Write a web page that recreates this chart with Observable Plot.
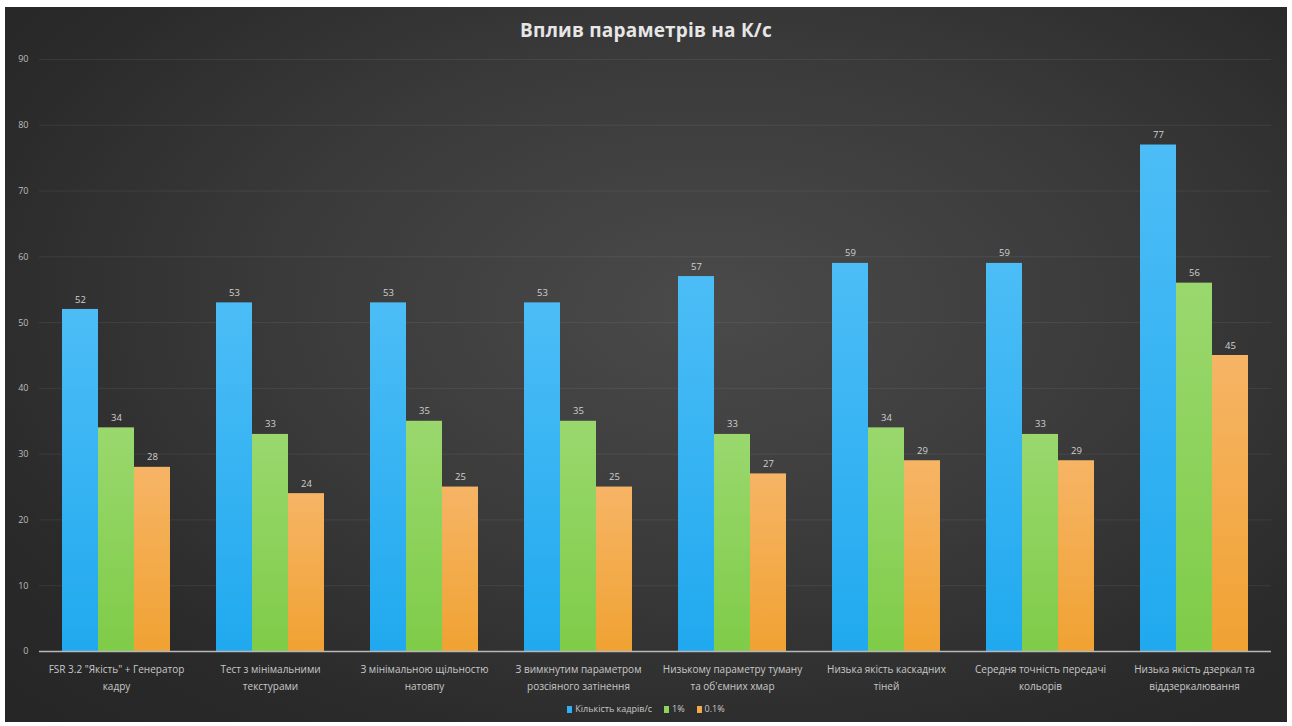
<!DOCTYPE html>
<html>
<head>
<meta charset="utf-8">
<script src="https://cdn.jsdelivr.net/npm/d3@7"></script>
<script src="https://cdn.jsdelivr.net/npm/@observablehq/plot@0.6"></script>
<style>
  html, body { margin: 0; padding: 0; background: #ffffff; }
  #frame {
    position: absolute; left: 5px; top: 7px; width: 1282px; height: 715px;
    background: radial-gradient(ellipse 75% 80% at 55% 42%, #4a4a4a 0%, #3a3a3a 45%, #2a2a2a 80%, #262626 100%);
    font-family: "Open Sans", sans-serif; overflow: hidden;
  }
  #title {
    height: 38px; line-height: 46px; text-align: center; color: #e6e6e6;
    font-size: 19px; font-weight: 700; letter-spacing: 0.2px;
  }
  #chart svg { display: block; }
  #legend {
    display: flex; justify-content: center; gap: 12px; align-items: center;
    color: #c8c8c8; font-size: 9px; margin-top: 0px; height: 16px;
  }
  #legend span.sw { display: inline-block; width: 5px; height: 7px; margin-right: 3px; vertical-align: -1px; }
</style>
</head>
<body>
<div id="frame">
  <div id="title">Вплив параметрів на К/с</div>
  <div id="chart"></div>
  <div id="legend"></div>
</div>
<script>
const categories = [
  "FSR 3.2 \"Якість\" + Генератор\nкадру",
  "Тест з мінімальними\nтекстурами",
  "З мінімальною щільностю\nнатовпу",
  "З вимкнутим параметром\nрозсіяного затінення",
  "Низькому параметру туману\nта об'ємних хмар",
  "Низька якість каскадних\nтіней",
  "Середня точність передачі\nкольорів",
  "Низька якість дзеркал та\nвіддзеркалювання"
];
const seriesNames = ["Кількість кадрів/с", "1%", "0.1%"];
const fps = [52, 53, 53, 53, 57, 59, 59, 77];
const low1 = [34, 33, 35, 35, 33, 34, 33, 56];
const low01 = [28, 24, 25, 25, 27, 29, 29, 45];
const yTicks = [0, 10, 20, 30, 40, 50, 60, 70, 80, 90];
const colors = ["#2db1f1", "#8fd35f", "#f2a94c"];
const colorsTop = ["#4cbdf6", "#9ad86e", "#f6b465"];
const colorsBottom = ["#20a9ef", "#7fcc48", "#f0a232"];

const seriesValues = [fps, low1, low01];
const data = [];
categories.forEach((c, i) => {
  seriesNames.forEach((s, j) => data.push({cat: c, series: s, value: seriesValues[j][i]}));
});

const barMarks = seriesNames.map((s, j) =>
  Plot.barY(data.filter(d => d.series === s), {fx: "cat", x: "series", y: "value", fill: `url(#grad${j})`})
);

const chart = Plot.plot({
  width: 1282,
  height: 655,
  marginTop: 14,
  marginBottom: 49,
  marginLeft: 33,
  marginRight: 16,
  style: {background: "transparent", color: "#cccccc", fontFamily: "Open Sans, sans-serif"},
  fx: {domain: categories, padding: 0, label: null},
  x: {domain: seriesNames, paddingInner: 0, paddingOuter: 0.6, axis: null},
  y: {domain: [0, 90], label: null},
  color: {domain: seriesNames, range: colors},
  marks: [
    Plot.gridY(yTicks, {stroke: "#ffffff", strokeOpacity: 0.07}),
    Plot.axisY(yTicks, {tickSize: 0, tickPadding: 11, fontSize: 9, fill: "#bdbdbd", label: null}),
    Plot.axisFx({anchor: "bottom", tickSize: 0, tickPadding: 10, fontSize: 10, lineHeight: 1.65, fill: "#c8c8c8", label: null}),
    ...barMarks,
    Plot.ruleY([0], {stroke: "#b8b8b8", strokeWidth: 1.5}),
    Plot.text(data, {fx: "cat", x: "series", y: "value", text: d => String(d.value), dy: -10, fontSize: 9.5, fill: "#d0d0d0"})
  ]
});

const svg = d3.select(chart);
const defs = svg.insert("defs", ":first-child");
seriesNames.forEach((s, j) => {
  const g = defs.append("linearGradient").attr("id", `grad${j}`).attr("x1", 0).attr("y1", 0).attr("x2", 0).attr("y2", 1);
  g.append("stop").attr("offset", "0%").attr("stop-color", colorsTop[j]);
  g.append("stop").attr("offset", "100%").attr("stop-color", colorsBottom[j]);
});
document.getElementById("chart").appendChild(chart);

const legend = document.getElementById("legend");
seriesNames.forEach((s, j) => {
  const item = document.createElement("div");
  const sw = document.createElement("span");
  sw.className = "sw";
  sw.style.background = colors[j];
  item.appendChild(sw);
  item.appendChild(document.createTextNode(s));
  legend.appendChild(item);
});
</script>
</body>
</html>
